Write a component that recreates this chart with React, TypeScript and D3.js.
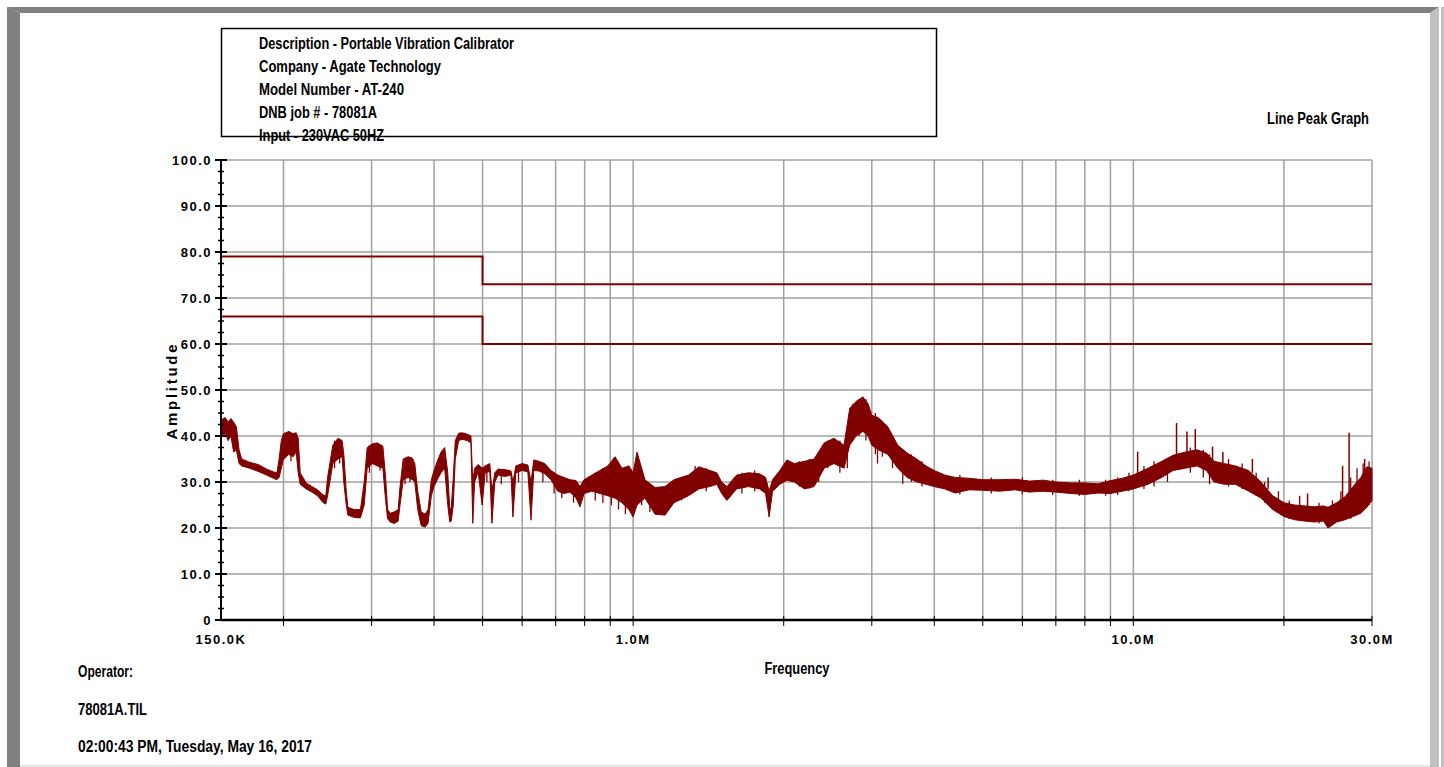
import React from "react";
import * as d3 from "d3";

// header / footer text
const headerLines = [
  "Description - Portable Vibration Calibrator",
  "Company - Agate Technology",
  "Model Number - AT-240",
  "DNB job # - 78081A",
  "Input - 230VAC 50HZ",
];
const headerWidths = [255, 182, 145, 118, 125];
const footerLines = ["Operator:", "78081A.TIL", "02:00:43 PM, Tuesday, May 16, 2017"];
const footerWidths = [55, 69, 234];

// axes
const yTicks = [0, 10, 20, 30, 40, 50, 60, 70, 80, 90, 100];
const xLabelFreqs = [0.15, 1, 10, 30];
const xLabels = ["150.0K", "1.0M", "10.0M", "30.0M"];
const gridFreqs = [0.2, 0.3, 0.4, 0.5, 0.6, 0.7, 0.8, 0.9, 1, 2, 3, 4, 5, 6, 7, 8, 9, 10, 20, 30];

// limit lines (MHz, dBuV)
const limitFreq = [0.15, 0.5, 0.5, 30];
const limitQP = [79, 79, 73, 73];
const limitAvg = [66, 66, 60, 60];

// measured trace, MHz with lower / upper edge of the noisy band
const traceFreq = [
  0.150, 0.153, 0.155, 0.157, 0.159, 0.161, 0.163, 0.165, 0.171, 0.178, 0.185, 0.191, 0.194, 0.196, 0.198,
  0.200, 0.205, 0.209, 0.212, 0.214, 0.216, 0.222, 0.228, 0.234, 0.240, 0.243, 0.245, 0.251, 0.257, 0.262,
  0.264, 0.267, 0.269, 0.277, 0.285, 0.290, 0.294, 0.301, 0.308, 0.316, 0.320, 0.323, 0.327, 0.333, 0.339,
  0.342, 0.347, 0.355, 0.362, 0.366, 0.371, 0.377, 0.384, 0.389, 0.395, 0.400, 0.406, 0.413, 0.420, 0.426,
  0.430, 0.433, 0.437, 0.441, 0.448, 0.455, 0.466, 0.474, 0.478, 0.482, 0.490, 0.499, 0.506, 0.517, 0.522,
  0.529, 0.537, 0.554, 0.570, 0.575, 0.583, 0.600, 0.616, 0.625, 0.633, 0.648, 0.666, 0.685, 0.707, 0.727,
  0.748, 0.769, 0.783, 0.798, 0.827, 0.858, 0.890, 0.920, 0.950, 0.981, 1.000, 1.018, 1.056, 1.106, 1.158,
  1.207, 1.29, 1.354, 1.424, 1.47, 1.503, 1.54, 1.61, 1.70, 1.79, 1.84, 1.87, 1.90, 1.965, 2.03,
  2.10, 2.20, 2.30, 2.41, 2.52, 2.64, 2.71, 2.79, 2.88, 2.95, 3.00, 3.09, 3.23, 3.38, 3.53,
  3.69, 3.85, 4.00, 4.20, 4.40, 4.70, 5.00, 5.40, 5.80, 6.20, 6.60, 7.00, 7.50, 8.00, 8.50,
  9.00, 9.50, 10.0, 10.7, 11.4, 12.0, 12.7, 13.4, 14.0, 14.5, 15.2, 16.0, 17.0, 18.0, 19.0,
  20.0, 21.0, 22.0, 23.0, 24.0, 24.5, 25.5, 26.5, 27.5, 28.5, 29.3, 30.0,
];
const traceLo = [
  40, 40.5, 39, 40, 36.5, 37, 34, 33.5, 33, 32.3, 31.5, 30.8, 30.5, 31, 33,
  35, 36, 35.5, 36.5, 32, 29.5, 28.5, 27.8, 27, 25.5, 25.2, 27, 34, 35, 35.5,
  30, 25, 22.8, 22.3, 22.2, 25, 33, 34, 33.5, 33, 26, 22, 21.3, 21, 21.5,
  25, 30.5, 31, 30.5, 30, 24, 20.5, 20.2, 21, 27, 29, 30.5, 32, 33, 25,
  21.3, 21.5, 25, 35, 39, 39.3, 39, 38.5, 21, 30, 32.2, 25, 32, 32.3, 21,
  30, 31.5, 31.2, 31.5, 22.4, 32, 32.5, 32.2, 21.7, 32.5, 32.4, 31.8, 30.5, 28, 27.5,
  27.8, 26.5, 24.6, 27.5, 28, 27.5, 27, 26.5, 25.5, 24, 22.4, 25, 26.5, 23, 22.8,
  25.5, 27, 28.5, 29, 29.5, 27.5, 26, 28.5, 29, 28.5, 27.5, 22.4, 28, 29.5, 30.4,
  30, 28.5, 29, 33, 34, 33, 38, 40, 41, 40, 38, 37, 36, 33, 31,
  30, 29.5, 29, 28.5, 27.6, 28.3, 28.2, 28, 28.3, 27.8, 28, 27.8, 27.5, 27.3, 27.6,
  27.5, 28, 28.5, 29.5, 31, 32.5, 33, 33.5, 32.5, 30, 29.5, 29.5, 28, 26.5, 24,
  22.5, 21.8, 21.5, 21.3, 21.5, 20, 21.3, 21.8, 22.5, 23.2, 24.5, 26,
];
const traceHi = [
  43.5, 44, 43, 43.8, 43, 42, 37, 35, 34.3, 33.8, 32.8, 32.2, 32, 35, 39,
  40.5, 41, 40.5, 40.7, 39.5, 32, 29.8, 29, 28.3, 27.2, 27, 31, 38, 39.5, 39,
  36, 28, 24.5, 24, 24, 30, 37.5, 38.3, 38.5, 37.8, 31, 24, 23.2, 23.5, 24,
  29, 35, 35.5, 35.2, 34, 28, 23.5, 23, 24, 30.5, 32.5, 34.5, 36.5, 37.5, 32,
  24, 24.5, 31, 39, 40.6, 40.7, 40.4, 40, 30, 33, 33.8, 33, 33.5, 34, 28,
  32, 32.8, 32.7, 32.4, 30, 33.5, 34, 33.7, 30, 34.8, 34.5, 34, 32.5, 31.5, 31,
  30.5, 30.3, 29, 30.5, 31.5, 32.5, 33.5, 35.5, 33, 33.5, 32, 36.5, 30.5, 28.8, 29,
  30.5, 31.5, 33.3, 32.5, 32, 30, 29, 31.5, 32, 31.8, 31, 28, 30.5, 32.5, 34.8,
  34, 34.5, 35, 38.5, 39.5, 38, 46, 47.5, 48.5, 47, 44.5, 44, 42, 38, 36.3,
  35, 33.5, 32.5, 31.5, 31, 30.8, 30.5, 30.5, 30.6, 30.2, 30.4, 30, 29.8, 29.8, 29.6,
  30.3, 30.8, 31.5, 33, 34.5, 35.8, 36.5, 37, 36.3, 34.5, 34, 33.5, 32.5, 30, 27,
  25.5, 25, 24.8, 24.6, 24.8, 24.5, 25.5, 26.8, 29, 31, 33.3, 33,
];

// isolated peaks above the band
const spikeFreq = [10.2, 12.2, 12.8, 13.3, 14.4, 15.1, 17.3, 18.6, 22.3, 26.2, 27.0, 29.0];
const spikeBase = [31.5, 35.5, 36, 36.5, 34.5, 34, 32, 28.5, 24.5, 26, 27, 32];
const spikeTop = [36.6, 42.8, 41, 41.5, 37.7, 36.5, 35, 31, 27.5, 33.5, 40.7, 35];

// vertical noise strokes inside / below the band
const noiseFreq = [
  0.201, 0.207, 0.253, 0.259, 0.297, 0.312, 0.350, 0.358, 0.51, 0.545, 0.59, 0.66, 0.695, 0.72, 0.76,
  0.84, 0.87, 0.905, 0.935, 0.965, 1.04, 1.08, 1.25, 1.33, 1.40, 1.65, 1.75, 2.15, 2.25, 2.35,
  2.45, 2.59, 2.68, 2.75, 2.83, 2.92, 3.05, 3.08, 3.15, 3.3, 3.46, 3.6, 3.78, 4.5, 5.2,
  6.0, 6.9, 7.8, 8.8, 9.3, 9.8, 10.5, 11.0, 11.7, 13.0, 13.8, 14.2, 15.5, 16.5, 17.6,
  18.3, 19.5, 20.5, 21.5, 23.5, 25.0, 26.0, 27.2, 28.0, 28.8, 29.6,
];
const noiseFrom = [
  40, 40, 39, 38, 38, 37.5, 35, 35, 33, 32.5, 33.5, 34, 32, 31, 30,
  32, 33, 34, 34, 33, 30.5, 29.5, 31, 33.5, 33, 32, 32.5, 34.5, 35, 35,
  39, 39, 40, 47, 48, 48, 45, 44, 43, 40, 37, 36, 34.5, 31.5, 31,
  31, 30.5, 30.5, 30.5, 31, 32, 33.5, 34.5, 35, 37.5, 37, 36, 35, 34, 32,
  30, 28, 26, 27, 25.5, 26, 28, 31, 33, 34, 34.5,
];
const noiseTo = [
  35, 34.5, 33, 34, 32, 32.5, 29.5, 30, 30, 29.5, 30, 30, 27.5, 26.5, 25.5,
  26, 25.5, 25, 24, 23, 25, 23.5, 26, 28, 28, 27.5, 28, 29, 28.6, 30,
  33, 32, 33, 39, 40, 39, 36, 34, 35.5, 33, 29.6, 30, 29, 27.3, 27.5,
  27.3, 27.2, 27, 27, 27.2, 28, 28.5, 29, 30, 32, 31, 29.5, 29, 28.5, 27,
  25.5, 23.5, 22, 21.5, 21, 20.8, 21.5, 22, 23, 24, 25,
];

const FONT = "'Liberation Sans Narrow', 'Arial Narrow', 'Liberation Sans', Arial, sans-serif";
const TRACE = "#800000";
const LIMIT = "#800000";

export default function App() {
  const width = 1444;
  const height = 767;
  const x = d3.scaleLog().domain([0.15, 30]).range([221, 1372]);
  const y = d3.scaleLinear().domain([0, 100]).range([620, 160]);

  const idx = d3.range(traceFreq.length);
  const band = d3
    .area<number>()
    .x((i) => x(traceFreq[i]))
    .y0((i) => y(traceLo[i]))
    .y1((i) => y(traceHi[i]))(idx);
  const limitLine = (vals: number[]) =>
    d3
      .line<number>()
      .x((i) => x(limitFreq[i]))
      .y((i) => y(vals[i]))(d3.range(limitFreq.length));
  const minorTicks = d3.range(0, 100.01, 2.5).filter((v) => v % 10 !== 0);

  return (
    <svg
      width={width}
      height={height}
      style={{ position: "absolute", left: 0, top: 0, background: "#fff" }}
      fontFamily={FONT}
    >
      {/* window frame */}
      <polygon points="7,7 1439,7 1430,13 20,13" fill="#808080" />
      <polygon points="7,7 20,13 20,767 7,767" fill="#808080" />
      <polygon points="1439,7 1439,767 1430,767 1430,13" fill="#c0c0c0" />
      <rect x={1441} y={7} width={3} height={760} fill="#c0c0c0" />
      <rect x={20} y={765} width={1410} height={2} fill="#e6e6e6" />

      {/* header */}
      {headerLines.map((t, i) => (
        <text
          key={t}
          x={259}
          y={48.5 + i * 23}
          fontSize={16}
          fontWeight="bold"
          textLength={headerWidths[i]}
          lengthAdjust="spacingAndGlyphs"
          fill="#000"
        >
          {t}
        </text>
      ))}
      <rect x={221.5} y={28.5} width={715} height={108} fill="none" stroke="#000" strokeWidth={1.5} />
      <text x={1267} y={124} fontSize={16} fontWeight="bold" textLength={102} lengthAdjust="spacingAndGlyphs">
        Line Peak Graph
      </text>

      {/* grid */}
      {yTicks.map((v) => (
        <line key={"hg" + v} x1={x(0.15)} x2={x(30)} y1={y(v)} y2={y(v)} stroke="#a0a0a0" strokeWidth={1.5} />
      ))}
      {gridFreqs.map((f) => (
        <line key={"vg" + f} x1={x(f)} x2={x(f)} y1={y(100)} y2={y(0)} stroke="#a0a0a0" strokeWidth={1.5} />
      ))}

      {/* limits */}
      <path d={limitLine(limitQP) || ""} fill="none" stroke={LIMIT} strokeWidth={2} />
      <path d={limitLine(limitAvg) || ""} fill="none" stroke={LIMIT} strokeWidth={2} />

      {/* trace */}
      <path d={band || ""} fill={TRACE} stroke={TRACE} strokeWidth={1} strokeLinejoin="round" />
      {noiseFreq.map((f, i) => (
        <line key={"nz" + i} x1={x(f)} x2={x(f)} y1={y(noiseFrom[i])} y2={y(noiseTo[i])} stroke={TRACE} strokeWidth={1.3} />
      ))}
      {spikeFreq.map((f, i) => (
        <line key={"sp" + i} x1={x(f)} x2={x(f)} y1={y(spikeBase[i])} y2={y(spikeTop[i])} stroke={TRACE} strokeWidth={1.5} />
      ))}

      {/* y axis */}
      <line x1={x(0.15)} x2={x(0.15)} y1={y(100) - 1} y2={y(0)} stroke="#000" strokeWidth={2} />
      {yTicks.map((v) => (
        <g key={"yt" + v}>
          <line x1={x(0.15) - 6} x2={x(0.15) + 6} y1={y(v)} y2={y(v)} stroke="#000" strokeWidth={2} />
          <text
            x={212}
            y={y(v)}
            dy="0.35em"
            textAnchor="end"
            fontSize={13}
            fontWeight="bold"
            letterSpacing={1.5}
          >
            {v === 0 ? "0" : v.toFixed(1)}
          </text>
        </g>
      ))}
      {minorTicks.map((v) => (
        <line key={"ym" + v} x1={x(0.15) - 3} x2={x(0.15) + 3} y1={y(v)} y2={y(v)} stroke="#000" strokeWidth={1.5} />
      ))}
      <text
        transform={`translate(177,${y(50) + 2}) rotate(-90)`}
        textAnchor="middle"
        fontSize={15}
        fontWeight="bold"
        textLength={95}
        lengthAdjust="spacing"
      >
        Amplitude
      </text>

      {/* x axis */}
      <line x1={x(0.15)} x2={x(30)} y1={y(0)} y2={y(0)} stroke="#000" strokeWidth={2.5} />
      {gridFreqs.map((f) => (
        <line key={"xt" + f} x1={x(f)} x2={x(f)} y1={y(0) - 4} y2={y(0) + 6} stroke="#000" strokeWidth={1} />
      ))}
      {xLabels.map((t, i) => (
        <text
          key={t}
          x={x(xLabelFreqs[i])}
          y={644}
          textAnchor="middle"
          fontSize={13}
          fontWeight="bold"
          letterSpacing={1.5}
        >
          {t}
        </text>
      ))}
      <text x={797} y={674} textAnchor="middle" fontSize={16} fontWeight="bold" textLength={65} lengthAdjust="spacingAndGlyphs">
        Frequency
      </text>

      {/* footer */}
      {footerLines.map((t, i) => (
        <text
          key={t}
          x={78}
          y={677 + i * 37.5}
          fontSize={16}
          fontWeight="bold"
          textLength={footerWidths[i]}
          lengthAdjust="spacingAndGlyphs"
        >
          {t}
        </text>
      ))}
    </svg>
  );
}
